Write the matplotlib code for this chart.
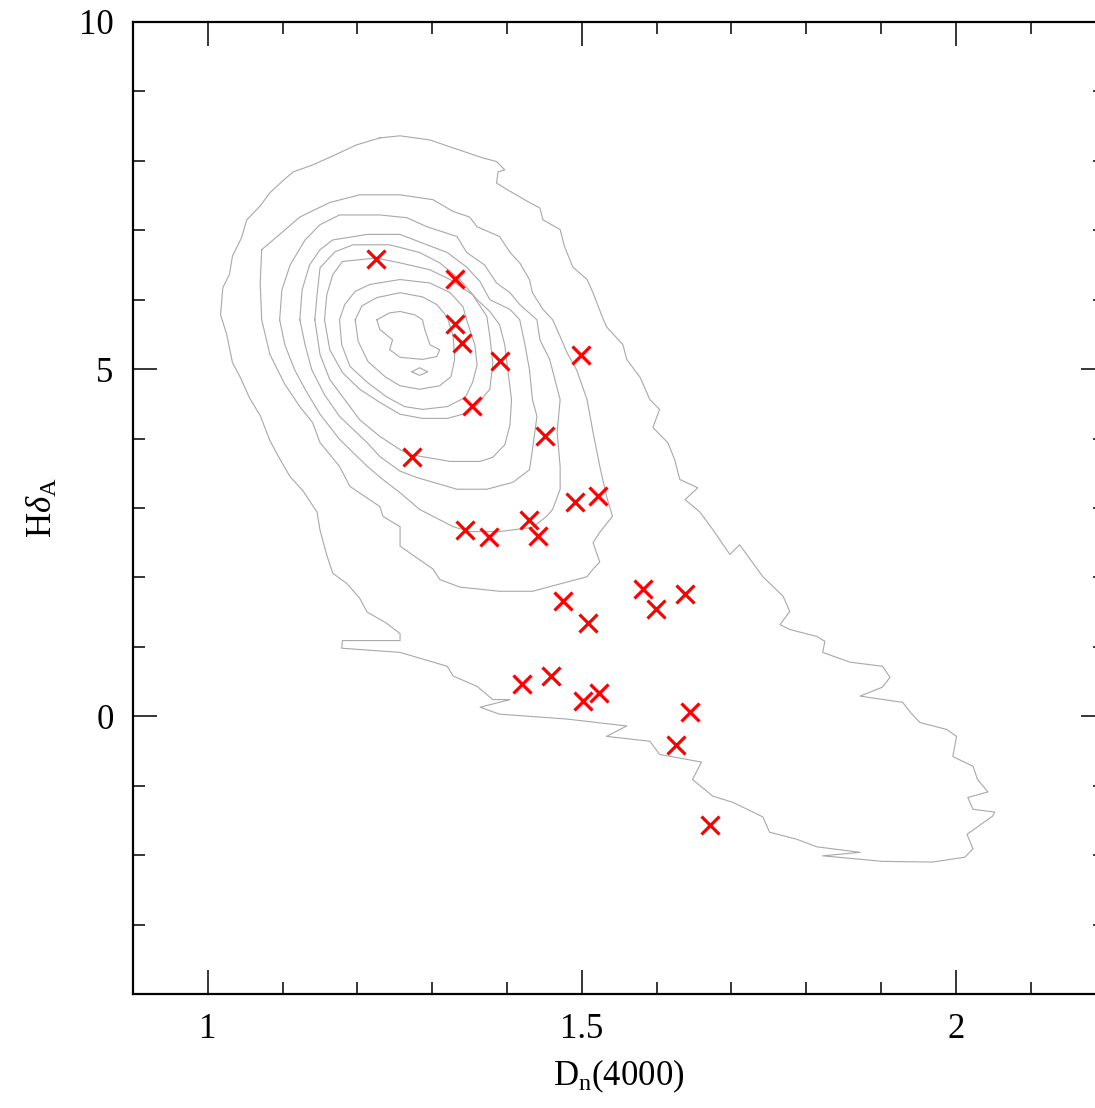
import numpy as np
import matplotlib.pyplot as plt
from matplotlib.ticker import MultipleLocator

plt.rcParams['font.family'] = ['Liberation Serif', 'DejaVu Serif']
plt.rcParams['mathtext.fontset'] = 'custom'
plt.rcParams['mathtext.rm'] = 'Liberation Serif'
plt.rcParams['mathtext.it'] = 'Liberation Serif:italic'

# galaxies (red crosses)
dn4000 = [1.225, 1.330, 1.330, 1.340, 1.390, 1.499, 1.353, 1.451, 1.273, 1.491,
          1.521, 1.430, 1.344, 1.376, 1.441, 1.582, 1.638, 1.599, 1.475, 1.508,
          1.420, 1.459, 1.501, 1.523, 1.644, 1.626, 1.671]
hdelta = [6.58, 6.30, 5.65, 5.38, 5.12, 5.21, 4.47, 4.03, 3.73, 3.09,
          3.17, 2.83, 2.68, 2.58, 2.60, 1.84, 1.755, 1.54, 1.655, 1.35,
          0.47, 0.575, 0.216, 0.33, 0.058, -0.417, -1.57]

# density contours of the comparison sample, outer to inner
l1_x = [1.230, 1.257, 1.297, 1.324, 1.368, 1.386, 1.397, 1.388, 1.386, 1.401,
        1.430, 1.444, 1.448, 1.471, 1.477, 1.488, 1.507, 1.515, 1.527, 1.533,
        1.555, 1.560, 1.578, 1.591, 1.604, 1.595, 1.615, 1.624, 1.631, 1.655,
        1.638, 1.658, 1.675, 1.698, 1.711, 1.742, 1.769, 1.778, 1.765, 1.778,
        1.814, 1.825, 1.822, 1.858, 1.902, 1.912, 1.902, 1.872, 1.929, 1.939,
        1.952, 1.988, 2.001, 1.996, 2.023, 2.029, 2.043, 2.016, 2.023, 2.052,
        2.049, 2.015, 2.023, 2.012, 1.969, 1.902, 1.822, 1.872, 1.814, 1.787,
        1.751, 1.742, 1.702, 1.675, 1.648, 1.660, 1.604, 1.591, 1.533, 1.560,
        1.480, 1.390, 1.364, 1.404, 1.381, 1.360, 1.328, 1.320, 1.257, 1.179,
        1.180, 1.257, 1.257, 1.239, 1.213, 1.203, 1.186, 1.167, 1.159, 1.150,
        1.146, 1.127, 1.110, 1.096, 1.083, 1.070, 1.056, 1.043, 1.033, 1.025,
        1.017, 1.020, 1.029, 1.033, 1.045, 1.052, 1.070, 1.083, 1.100, 1.114,
        1.140, 1.167, 1.199]
l1_y = [8.33, 8.36, 8.30, 8.20, 8.04, 7.99, 7.87, 7.84, 7.68, 7.58,
        7.40, 7.32, 7.15, 7.01, 6.76, 6.47, 6.29, 6.10, 5.76, 5.61,
        5.35, 5.14, 4.88, 4.56, 4.42, 4.16, 3.94, 3.70, 3.41, 3.29,
        3.12, 2.94, 2.69, 2.33, 2.47, 2.01, 1.73, 1.51, 1.32, 1.25,
        1.15, 1.08, 0.92, 0.78, 0.72, 0.56, 0.42, 0.29, 0.20, 0.06,
        -0.09, -0.19, -0.29, -0.58, -0.72, -0.91, -1.09, -1.17, -1.34, -1.38,
        -1.44, -1.70, -1.91, -2.03, -2.10, -2.09, -2.01, -1.96, -1.88, -1.77,
        -1.67, -1.45, -1.24, -1.15, -0.91, -0.66, -0.55, -0.36, -0.29, -0.14,
        -0.04, 0.03, 0.13, 0.24, 0.24, 0.43, 0.58, 0.72, 0.92, 0.98,
        1.09, 1.09, 1.19, 1.34, 1.50, 1.70, 1.91, 2.06, 2.32, 2.68,
        2.94, 3.25, 3.45, 3.71, 3.97, 4.33, 4.58, 4.89, 5.09, 5.51,
        5.78, 6.17, 6.37, 6.63, 6.89, 7.15, 7.35, 7.54, 7.71, 7.84,
        7.94, 8.07, 8.23]

l2_x = [1.072, 1.070, 1.072, 1.083, 1.103, 1.123, 1.140, 1.150, 1.176, 1.190,
        1.230, 1.234, 1.257, 1.257, 1.301, 1.310, 1.337, 1.390, 1.434, 1.507,
        1.515, 1.524, 1.515, 1.524, 1.541, 1.533, 1.524, 1.515, 1.507, 1.493,
        1.480, 1.471, 1.461, 1.448, 1.434, 1.430, 1.417, 1.404, 1.390, 1.360,
        1.350, 1.328, 1.301, 1.257, 1.203, 1.163, 1.123, 1.096]
l2_y = [6.72, 6.24, 5.71, 5.21, 4.78, 4.46, 4.23, 3.94, 3.60, 3.31,
        3.02, 2.88, 2.73, 2.45, 2.12, 1.97, 1.86, 1.80, 1.80, 2.01,
        2.12, 2.22, 2.50, 2.65, 2.88, 3.17, 3.60, 4.09, 4.56, 4.99,
        5.24, 5.47, 5.71, 5.86, 6.10, 6.29, 6.53, 6.68, 6.91, 7.05,
        7.19, 7.27, 7.44, 7.51, 7.51, 7.40, 7.19, 6.94]

l3_x = [1.096, 1.099, 1.110, 1.130, 1.150, 1.176, 1.230, 1.266, 1.293, 1.333,
        1.346, 1.370, 1.386, 1.404, 1.417, 1.440, 1.444, 1.457, 1.464, 1.471,
        1.467, 1.471, 1.471, 1.461, 1.453, 1.434, 1.390, 1.350, 1.328, 1.310,
        1.283, 1.257, 1.234, 1.213, 1.176, 1.150, 1.130, 1.116, 1.103]
l3_y = [5.71, 6.14, 6.50, 6.86, 7.08, 7.22, 7.22, 7.18, 7.05, 6.91,
        6.68, 6.50, 6.24, 6.10, 5.93, 5.71, 5.42, 5.14, 4.85, 4.56,
        4.09, 3.60, 3.27, 2.98, 2.88, 2.72, 2.66, 2.66, 2.73, 2.83,
        2.98, 3.22, 3.41, 3.60, 3.99, 4.35, 4.71, 4.99, 5.35]

l4_x = [1.123, 1.126, 1.136, 1.150, 1.167, 1.213, 1.257, 1.293, 1.320, 1.346,
        1.364, 1.377, 1.404, 1.417, 1.424, 1.430, 1.434, 1.440, 1.434, 1.430,
        1.408, 1.373, 1.333, 1.279, 1.257, 1.230, 1.213, 1.176, 1.156, 1.139,
        1.130]
l4_y = [5.71, 6.14, 6.50, 6.72, 6.86, 6.94, 6.94, 6.79, 6.68, 6.47,
        6.26, 6.00, 5.86, 5.71, 5.35, 4.99, 4.56, 4.32, 3.84, 3.55,
        3.37, 3.27, 3.27, 3.44, 3.53, 3.74, 3.94, 4.32, 4.63, 4.99,
        5.35]

l5_x = [1.143, 1.146, 1.150, 1.170, 1.194, 1.243, 1.283, 1.310, 1.337, 1.360,
        1.377, 1.390, 1.397, 1.401, 1.406, 1.404, 1.397, 1.381, 1.364, 1.324,
        1.270, 1.257, 1.230, 1.203, 1.183, 1.163, 1.150]
l5_y = [5.71, 6.07, 6.46, 6.69, 6.79, 6.79, 6.68, 6.53, 6.29, 6.00,
        5.83, 5.64, 5.35, 4.99, 4.56, 4.20, 3.91, 3.73, 3.67, 3.67,
        3.77, 3.84, 4.03, 4.27, 4.56, 4.85, 5.21]

l6_x = [1.156, 1.159, 1.167, 1.180, 1.225, 1.257, 1.297, 1.324, 1.354, 1.373,
        1.377, 1.381, 1.377, 1.360, 1.341, 1.320, 1.287, 1.257, 1.230, 1.203,
        1.180, 1.163]
l6_y = [5.71, 6.07, 6.36, 6.55, 6.60, 6.53, 6.43, 6.29, 6.07, 5.76,
        5.47, 5.09, 4.71, 4.49, 4.35, 4.29, 4.29, 4.35, 4.52, 4.71,
        4.95, 5.28]

l7_x = [1.176, 1.183, 1.197, 1.217, 1.257, 1.297, 1.324, 1.341, 1.346, 1.357,
        1.360, 1.354, 1.344, 1.320, 1.287, 1.263, 1.239, 1.213, 1.190, 1.179]
l7_y = [5.71, 5.93, 6.12, 6.22, 6.29, 6.24, 6.10, 5.90, 5.71, 5.35,
        5.06, 4.81, 4.59, 4.46, 4.42, 4.46, 4.60, 4.81, 5.04, 5.35]

l8_x = [1.197, 1.206, 1.226, 1.257, 1.287, 1.306, 1.320, 1.328, 1.330, 1.325,
        1.310, 1.283, 1.257, 1.237, 1.214, 1.201]
l8_y = [5.71, 5.91, 6.03, 6.10, 6.04, 5.93, 5.75, 5.47, 5.14, 4.89,
        4.76, 4.71, 4.76, 4.89, 5.11, 5.40]

l9_x = [1.226, 1.243, 1.257, 1.277, 1.287, 1.290, 1.297, 1.310, 1.306, 1.287,
        1.257, 1.243, 1.247, 1.230]
l9_y = [5.71, 5.81, 5.83, 5.78, 5.71, 5.57, 5.35, 5.28, 5.18, 5.14,
        5.17, 5.28, 5.42, 5.57]

isle_x = [1.273, 1.283, 1.294, 1.283]
isle_y = [4.96, 5.02, 4.96, 4.91]

contours = [(l1_x, l1_y), (l2_x, l2_y), (l3_x, l3_y), (l4_x, l4_y), (l5_x, l5_y),
            (l6_x, l6_y), (l7_x, l7_y), (l8_x, l8_y), (l9_x, l9_y), (isle_x, isle_y)]

fig = plt.figure(figsize=(10.95, 11.08), dpi=100)
ax = fig.add_axes([0.1215, 0.1029, 0.888, 0.8773])

for cx, cy in contours:
    cx = np.append(cx, cx[0])
    cy = np.append(cy, cy[0])
    ax.plot(cx, cy, color='#a8a8a8', lw=0.8)

ax.plot(dn4000, hdelta, ls='none', marker='x', color='red', ms=13, mew=2.3)

ax.set_xlim(0.9, 2.2)
ax.set_ylim(-4, 10)
ax.set_xticks([1, 1.5, 2])
ax.set_xticklabels(['1', '1.5', '2'])
ax.set_yticks([0, 5, 10])
ax.set_yticklabels(['0', '5', '10'])
ax.xaxis.set_minor_locator(MultipleLocator(0.1))
ax.yaxis.set_minor_locator(MultipleLocator(1))
ax.tick_params(which='both', direction='in', top=True, right=True, width=1.1, color='black')
ax.tick_params(which='major', length=17.5, labelsize=25, pad=14)
ax.tick_params(which='minor', length=8.7)
for s in ax.spines.values():
    s.set_linewidth(1.6)

ax.set_xlabel(r'D$_{\mathrm{n}}$(4000)', fontsize=25, labelpad=8)
ax.set_ylabel(r'H$\delta_{\mathrm{A}}$', fontsize=25, labelpad=14)

fig.savefig('out.png', dpi=100)
